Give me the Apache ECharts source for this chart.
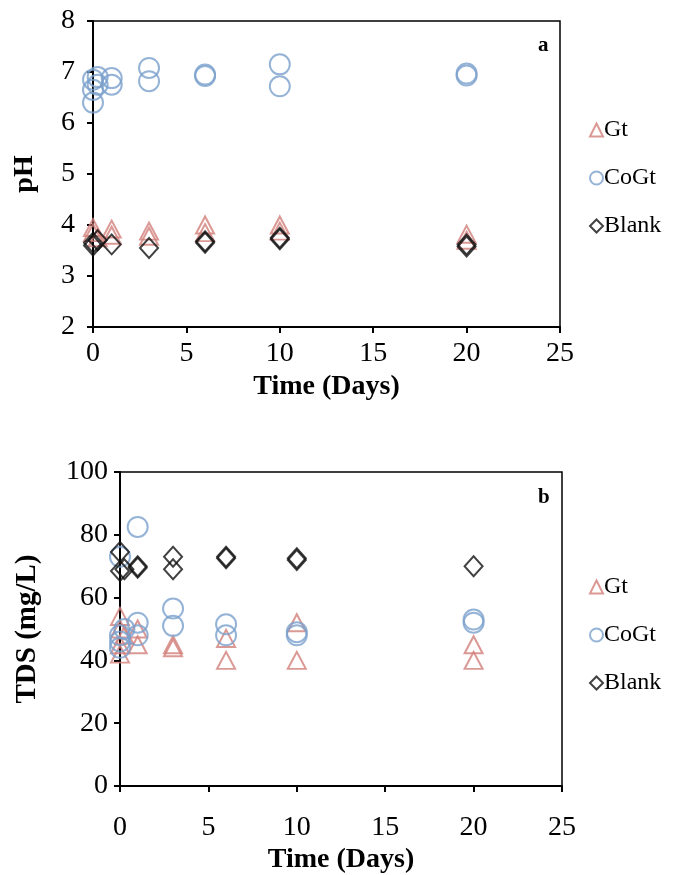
<!DOCTYPE html>
<html>
<head>
<meta charset="utf-8">
<script src="https://cdn.jsdelivr.net/npm/echarts@6/dist/echarts.min.js"></script>
<style>
html,body{margin:0;padding:0;background:#fff;}
#chart{width:699px;height:875px;}
</style>
</head>
<body>
<div id="chart"></div>
<script>
// ---- Data ----
const seriesNames = ['Gt', 'CoGt', 'Blank'];
const xTickValues = [0, 5, 10, 15, 20, 25];

// Panel a: pH
const phGtDays    = [0, 0, 0.25, 1, 1, 3, 3, 6, 6, 10, 10, 20, 20];
const phGtVals    = [3.95, 3.85, 3.75, 3.92, 3.8, 3.88, 3.78, 4.0, 3.85, 4.0, 3.88, 3.82, 3.7];
const phCoGtDays  = [0, 0, 0, 0.25, 0.25, 1, 1, 3, 3, 6, 6, 10, 10, 20, 20];
const phCoGtVals  = [6.4, 6.65, 6.85, 6.9, 6.75, 6.88, 6.75, 7.08, 6.82, 6.92, 6.95, 7.15, 6.72, 6.93, 6.97];
const phBlankDays = [0, 0, 0.25, 1, 3, 6, 6, 10, 10, 20, 20];
const phBlankVals = [3.6, 3.65, 3.7, 3.62, 3.55, 3.65, 3.68, 3.72, 3.75, 3.58, 3.62];

// Panel b: TDS (mg/L)
const tdsGtDays    = [0, 0, 0, 0, 0.25, 1, 1, 3, 3, 6, 6, 10, 10, 20, 20];
const tdsGtVals    = [42, 45, 50, 54, 48, 50, 45, 45, 44, 47, 40, 52, 40, 45, 40];
const tdsCoGtDays  = [0, 0, 0, 0, 0.25, 1, 1, 1, 3, 3, 6, 6, 10, 10, 20, 20];
const tdsCoGtVals  = [44, 46, 48, 73, 50, 82.5, 52, 48, 56.5, 51, 51.5, 48, 49, 48, 53, 52];
const tdsBlankDays = [0, 0, 0.25, 1, 1, 3, 3, 6, 6, 10, 10, 20];
const tdsBlankVals = [74.5, 68.5, 69, 70, 69.5, 73, 69, 73, 72.5, 72.5, 72, 70];

function zip(a, b) { return a.map((d, i) => [d, b[i]]); }

const FONT = 'Liberation Serif';
const styles = {
  Gt:    { symbol: 'triangle', symbolSize: [18, 17], border: '#d27f7b' },
  CoGt:  { symbol: 'circle',   symbolSize: 20,       border: '#7aa0cc' },
  Blank: { symbol: 'diamond',  symbolSize: [18, 20], border: '#111111' }
};

function mkSeries(name, data, idx) {
  const s = styles[name];
  return {
    name: name, type: 'scatter', xAxisIndex: idx, yAxisIndex: idx,
    symbol: s.symbol, symbolSize: s.symbolSize, data: data,
    itemStyle: { color: 'rgba(255,255,255,0)', borderColor: s.border, borderWidth: 2 },
    emphasis: { disabled: true }
  };
}

function xAxis(idx, labelMargin, nameGap) {
  return {
    gridIndex: idx, type: 'value', min: 0, max: 25, interval: 5,
    axisLine: { onZero: false, lineStyle: { color: '#000', width: 2 } },
    axisTick: { inside: false, length: 6, lineStyle: { color: '#000', width: 2 } },
    splitLine: { show: false },
    axisLabel: { color: '#000', fontFamily: FONT, fontSize: 28, margin: labelMargin },
    name: 'Time (Days)', nameLocation: 'middle', nameGap: nameGap,
    nameTextStyle: { color: '#000', fontFamily: FONT, fontSize: 28, fontWeight: 'bold' }
  };
}
function yAxis(idx, min, max, interval, name, nameGap, labelMargin, nameSize) {
  return {
    gridIndex: idx, type: 'value', min: min, max: max, interval: interval,
    axisLine: { onZero: false, lineStyle: { color: '#000', width: 2 } },
    axisTick: { inside: false, length: 6, lineStyle: { color: '#000', width: 2 } },
    splitLine: { show: false },
    axisLabel: { color: '#000', fontFamily: FONT, fontSize: 28, margin: labelMargin },
    name: name, nameLocation: 'middle', nameGap: nameGap,
    nameTextStyle: { color: '#000', fontFamily: FONT, fontSize: nameSize, fontWeight: 'bold' }
  };
}

function legend(top) {
  return {
    data: seriesNames, orient: 'vertical', left: 584, top: top,
    itemWidth: 13, itemHeight: 13, itemGap: 24,
    textStyle: { color: '#000', fontFamily: FONT, fontSize: 24, padding: [0, 0, 0, -4] },
    selectedMode: false
  };
}

const chart = echarts.init(document.getElementById('chart'), null, { renderer: 'canvas' });
chart.setOption({
  animation: false,
  backgroundColor: '#fff',
  grid: [
    { left: 93, top: 21, width: 467, height: 306, show: true, borderColor: '#000', borderWidth: 1.5, backgroundColor: 'transparent' },
    { left: 120, top: 472, width: 442, height: 314, show: true, borderColor: '#000', borderWidth: 1.5, backgroundColor: 'transparent' }
  ],
  xAxis: [xAxis(0, 13, 46), xAxis(1, 28, 60)],
  yAxis: [yAxis(0, 2, 8, 1, 'pH', 54, 18, 28), yAxis(1, 0, 100, 20, 'TDS (mg/L)', 78, 12, 29)],
  legend: [legend(113), legend(570)],
  series: [
    mkSeries('Gt', zip(phGtDays, phGtVals), 0),
    mkSeries('CoGt', zip(phCoGtDays, phCoGtVals), 0),
    mkSeries('Blank', zip(phBlankDays, phBlankVals), 0),
    mkSeries('Gt', zip(tdsGtDays, tdsGtVals), 1),
    mkSeries('CoGt', zip(tdsCoGtDays, tdsCoGtVals), 1),
    mkSeries('Blank', zip(tdsBlankDays, tdsBlankVals), 1)
  ],
  graphic: [
    { type: 'text', left: 538, top: 35, style: { text: 'a', font: 'bold 21px "Liberation Serif"', fill: '#000' } },
    { type: 'text', left: 538, top: 487, style: { text: 'b', font: 'bold 21px "Liberation Serif"', fill: '#000' } }
  ]
});
</script>
</body>
</html>
